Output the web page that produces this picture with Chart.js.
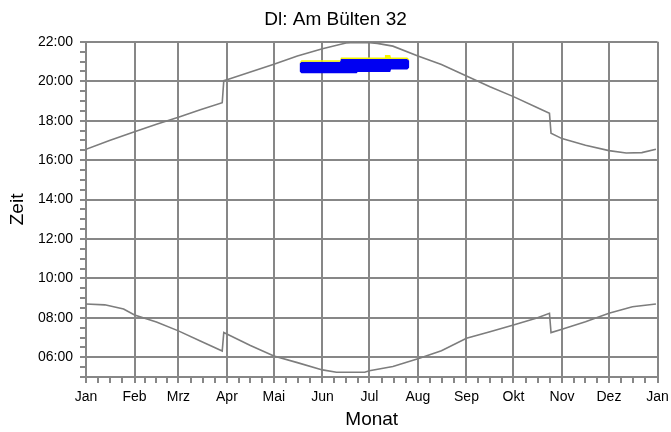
<!DOCTYPE html>
<html>
<head>
<meta charset="utf-8">
<title>Dl: Am Bülten 32</title>
<script src="https://cdn.jsdelivr.net/npm/chart.js@4.4.1/dist/chart.umd.min.js"></script>
<style>
    html, body { margin: 0; padding: 0; background: #fff; }
    #wrap { width: 671px; height: 432px; }
</style>
</head>
<body>
<div id="wrap"><canvas id="chart" width="671" height="432"></canvas></div>
<script>
// === DATA ===
// day of year (0 = 1 Jan) and clock time in decimal hours
const sunsetDays = [0, 15, 31, 45, 59, 73, 87, 88, 90, 105, 120, 135, 151, 166, 172, 181, 186, 196, 212, 227, 243, 258, 273, 288, 296, 297, 304, 319, 334, 345, 355, 364];
const sunsetTimes = [16.55, 17.0, 17.44, 17.82, 18.17, 18.55, 18.91, 20.03, 20.08, 20.47, 20.86, 21.28, 21.65, 21.94, 21.97, 21.96, 21.92, 21.78, 21.28, 20.85, 20.27, 19.72, 19.22, 18.67, 18.37, 17.36, 17.09, 16.75, 16.48, 16.36, 16.38, 16.55];

const sunriseDays = [0, 12, 24, 31, 45, 59, 73, 87, 88, 105, 120, 135, 151, 160, 178, 181, 196, 212, 227, 243, 258, 273, 288, 296, 297, 304, 319, 334, 349, 364];
const sunriseTimes = [8.70, 8.66, 8.45, 8.15, 7.79, 7.34, 6.83, 6.32, 7.26, 6.60, 6.07, 5.73, 5.36, 5.24, 5.24, 5.32, 5.53, 5.93, 6.33, 6.96, 7.30, 7.64, 7.99, 8.23, 7.25, 7.42, 7.80, 8.23, 8.56, 8.70];

// shadow period: outline of the blue area plus its thin yellow upper edge
const shadowDays = [136.4, 137.6, 162.2, 162.8, 172.9, 173.5, 190.4, 190.9, 194.3, 194.8, 205.2, 206.5];
const shadowEdge = [20.94, 21.07, 21.07, 21.21, 21.21, 21.21, 21.21, 21.33, 21.33, 21.21, 21.21, 21.10];
const shadowTop = [20.90, 20.99, 20.99, 21.13, 21.13, 21.13, 21.13, 21.13, 21.13, 21.13, 21.13, 21.04];
const shadowBottom = [20.50, 20.40, 20.40, 20.40, 20.40, 20.47, 20.47, 20.47, 20.47, 20.60, 20.60, 20.70];

const monthStarts = [0, 31, 59, 90, 120, 151, 181, 212, 243, 273, 304, 334, 365];
const monthLabels = ["Jan", "Feb", "Mrz", "Apr", "Mai", "Jun", "Jul", "Aug", "Sep", "Okt", "Nov", "Dez", "Jan"];

const hourTicks = [6, 8, 10, 12, 14, 16, 18, 20, 22];
const hourLabels = ["06:00", "08:00", "10:00", "12:00", "14:00", "16:00", "18:00", "20:00", "22:00"];

// === STYLE ===
const FONT = "'Liberation Sans', Arial, sans-serif";
const gridGray = "#878787";
const lineGray = "#7d7d7d";

function pts(xs, ys) {
    return xs.map((x, i) => ({ x: x, y: ys[i] }));
}

// month ticks plus three small ticks inside every month
function buildXTicks() {
    const ticks = [];
    for (let m = 0; m < monthStarts.length; m++) {
        ticks.push({ value: monthStarts[m], name: monthLabels[m] });
        if (m < monthStarts.length - 1) {
            const len = monthStarts[m + 1] - monthStarts[m];
            for (let k = 1; k < 4; k++) ticks.push({ value: monthStarts[m] + len * k / 4 });
        }
    }
    return ticks;
}

// half-hour ticks, labelled every two hours
function buildYTicks() {
    const ticks = [];
    for (let h = 5; h <= 22; h += 0.5) {
        const i = hourTicks.indexOf(h);
        ticks.push(i >= 0 ? { value: h, name: hourLabels[i] } : { value: h });
    }
    return ticks;
}

const gridColor = (ctx) => (ctx.tick && ctx.tick.name !== undefined) ? gridGray : "rgba(0,0,0,0)";

new Chart(document.getElementById("chart"), {
    type: "line",
    data: {
        datasets: [
            { data: pts(sunsetDays, sunsetTimes), borderColor: lineGray, borderWidth: 1.6, pointRadius: 0, fill: false },
            { data: pts(sunriseDays, sunriseTimes), borderColor: lineGray, borderWidth: 1.6, pointRadius: 0, fill: false },
            { data: pts(shadowDays, shadowEdge), borderWidth: 0, borderColor: "rgba(0,0,0,0)", backgroundColor: "#f5f500", pointRadius: 0, fill: "+1" },
            { data: pts(shadowDays, shadowTop), borderWidth: 0, borderColor: "rgba(0,0,0,0)", backgroundColor: "#0000f2", pointRadius: 0, fill: "+1" },
            { data: pts(shadowDays, shadowBottom), borderWidth: 0, borderColor: "rgba(0,0,0,0)", pointRadius: 0, fill: false }
        ]
    },
    options: {
        responsive: false,
        animation: false,
        layout: { padding: 0 },
        plugins: {
            legend: { display: false },
            tooltip: { enabled: false },
            title: {
                display: true,
                text: "Dl: Am Bülten 32",
                color: "#000",
                font: { family: FONT, size: 19, weight: "normal" },
                padding: { top: 8, bottom: 11 }
            }
        },
        scales: {
            x: {
                type: "linear",
                min: 0,
                max: 365,
                z: 1,
                afterBuildTicks: (scale) => { scale.ticks = buildXTicks(); },
                afterFit: (scale) => { scale.height = 55; scale.paddingRight = 13.5; },
                ticks: {
                    autoSkip: false,
                    maxRotation: 0,
                    padding: 6,
                    color: "#000",
                    font: { family: FONT, size: 14 },
                    callback: (v, i, ticks) => ticks[i].name || ""
                },
                grid: { color: gridColor, tickColor: gridGray, lineWidth: 2, tickLength: 6 },
                border: { color: gridGray, width: 2 },
                title: {
                    display: true,
                    text: "Monat",
                    color: "#000",
                    font: { family: FONT, size: 19 },
                    padding: { top: 0, bottom: 1 }
                }
            },
            y: {
                type: "linear",
                min: 5,
                max: 22,
                z: 1,
                afterBuildTicks: (scale) => { scale.ticks = buildYTicks(); },
                afterFit: (scale) => { scale.width = 86; },
                ticks: {
                    autoSkip: false,
                    padding: 7,
                    color: "#000",
                    font: { family: FONT, size: 14 },
                    callback: (v, i, ticks) => ticks[i].name || ""
                },
                grid: { color: gridColor, tickColor: gridGray, lineWidth: 2, tickLength: 6 },
                border: { color: gridGray, width: 2 },
                title: {
                    display: true,
                    text: "Zeit",
                    color: "#000",
                    font: { family: FONT, size: 19 },
                    padding: { top: 6, bottom: 0 }
                }
            }
        }
    }
});
</script>
</body>
</html>
